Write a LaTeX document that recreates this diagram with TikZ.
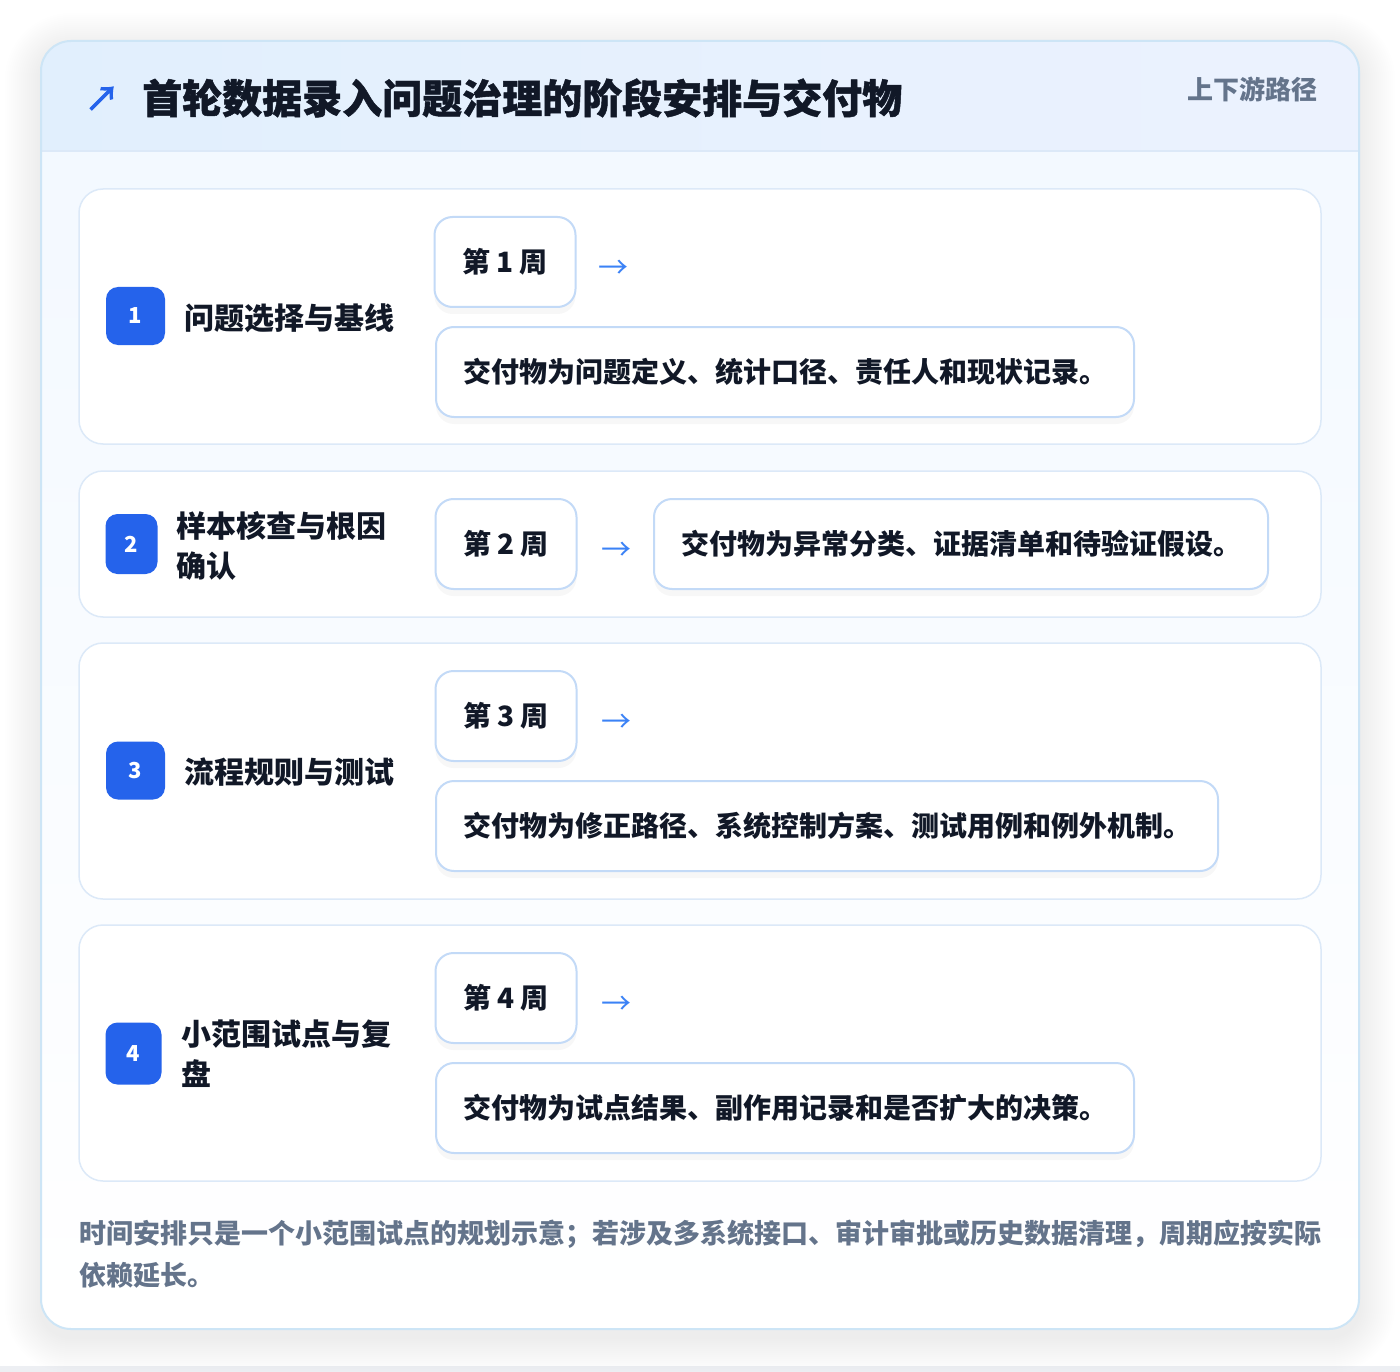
\documentclass[tikz,border=0pt]{standalone}
\usepackage{fontspec}
\setmainfont{Noto Sans CJK SC}
\usetikzlibrary{shadows}
\definecolor{ink}{HTML}{111827}
\definecolor{muted}{HTML}{64748B}
\definecolor{badgeblue}{HTML}{2563EB}
\definecolor{arrowblue}{HTML}{3B82F6}
\definecolor{cardline}{HTML}{CDE5F6}
\definecolor{rowline}{HTML}{DCE9F8}
\definecolor{boxline}{HTML}{C3DAF7}
\definecolor{headleft}{HTML}{E1EFFD}
\definecolor{headright}{HTML}{ECF2FE}
\definecolor{bodytop}{HTML}{F2F8FF}
\definecolor{pagegray}{HTML}{EDEFF3}
\newcommand{\setpx}[2]{\fontsize{#1}{#2}\selectfont}

\begin{document}
\begin{tikzpicture}[x=1pt,y=-1pt,
    rowcard/.style={draw=rowline, line width=1.5pt, fill=white, rounded corners=24pt,
      minimum width=1242pt, inner sep=0pt},
    badge/.style={fill=badgeblue, rounded corners=12pt, text=white,
      font=\bfseries\setpx{22}{22}, minimum width=59pt, minimum height=58pt, inner sep=0pt},
    stage/.style={anchor=west, align=left, text=ink, font=\bfseries\setpx{30}{40}, inner sep=0pt},
    week/.style={draw=boxline, line width=2pt, fill=white, rounded corners=18pt,
      minimum width=141pt, minimum height=90pt, text=ink, font=\bfseries\setpx{28}{34},
      inner sep=0pt, drop shadow={opacity=0.06, shadow xshift=0pt, shadow yshift=-7pt}},
    deliv/.style={draw=boxline, line width=2pt, fill=white, rounded corners=18pt,
      minimum height=90pt, anchor=west, inner xsep=27pt, align=left, text=ink,
      font=\bfseries\setpx{28}{34},
      drop shadow={opacity=0.06, shadow xshift=0pt, shadow yshift=-7pt}},
    arr/.style={text=arrowblue, font=\setpx{30}{30}, inner sep=0pt}]
  \useasboundingbox (0,0) rectangle (1400,1372);
  \fill[white] (0,0) rectangle (1400,1372);
  \fill[pagegray] (0,1366) rectangle (1400,1372);
  % soft shadow round the card
  \foreach \g in {2,4,...,36}{
    \fill[black,opacity=0.005,rounded corners=30pt+\g pt]
      (41-\g,41-\g+8) rectangle (1359+\g,1329+\g+8);
  }
  % card with header band
  \path[top color=bodytop,bottom color=white,rounded corners=30pt]
    (41,41) rectangle (1359,1329);
  \begin{scope}
    \clip[rounded corners=30pt] (41,41) rectangle (1359,1329);
    \fill[left color=headleft,right color=headright] (41,41) rectangle (1359,151);
    \draw[rowline,line width=1.5pt] (41,151) -- (1359,151);
  \end{scope}
  \draw[cardline,line width=2pt,rounded corners=30pt] (41,41) rectangle (1359,1329);

  \node[text=badgeblue,font=\setpx{34}{34}\addfontfeature{FakeBold=3}] (icon) at (102,99) {↗};
  \node[anchor=west,text=ink,font=\bfseries\setpx{40}{44}\addfontfeature{FakeBold=1.2},
    inner sep=0pt] (title) at (142,98) {首轮数据录入问题治理的阶段安排与交付物};
  \node[anchor=east,text=muted,font=\bfseries\setpx{26}{30},inner sep=0pt] (tag)
    at (1318,89) {上下游路径};

  % stage rows
  \foreach \n/\c/\h in {1/316.5/255, 2/544/146, 3/771/256, 4/1053/256}{
    \node[rowcard, minimum height=\h pt] (row\n) at (700,\c) {};
  }

  \node[badge] (b1) at (135.5,316) {1};
  \node[badge, minimum width=52pt, minimum height=60pt] (b2) at (131.5,544) {2};
  \node[badge] (b3) at (135.5,770.5) {3};
  \node[badge, minimum width=56pt, minimum height=62pt] (b4) at (133.5,1053.5) {4};

  \node[stage] (s1) at (184,318) {问题选择与基线};
  \node[stage] (s2) at (176,546) {样本核查与根因\\确认};
  \node[stage] (s3) at (184,772) {流程规则与测试};
  \node[stage] (s4) at (181,1054) {小范围试点与复\\盘};

  \node[week] (w1) at (505,262) {第 1 周};
  \node[week] (w2) at (506,544) {第 2 周};
  \node[week] (w3) at (506,716) {第 3 周};
  \node[week] (w4) at (506,998) {第 4 周};

  \node[arr] (a1) at (613,269) {→};
  \node[arr] (a2) at (616,551) {→};
  \node[arr] (a3) at (616,723) {→};
  \node[arr] (a4) at (616,1005) {→};

  \node[deliv, text width=644pt] (d1) at (435,372)
    {交付物为问题定义、统计口径、责任人和现状记录。};
  \node[deliv, text width=560pt] (d2) at (653,544)
    {交付物为异常分类、证据清单和待验证假设。};
  \node[deliv, text width=728pt] (d3) at (435,826)
    {交付物为修正路径、系统控制方案、测试用例和例外机制。};
  \node[deliv, text width=644pt] (d4) at (435,1108)
    {交付物为试点结果、副作用记录和是否扩大的决策。};

  % closing note
  \node[anchor=west, align=left, text width=1250pt, text=muted,
    font=\bfseries\setpx{27}{42}, inner sep=0pt] (note) at (79,1254)
    {时间安排只是一个小范围试点的规划示意；若涉及多系统接口、审计审批或历史数据清理，周期应按实际\\依赖延长。};
\end{tikzpicture}
\end{document}
